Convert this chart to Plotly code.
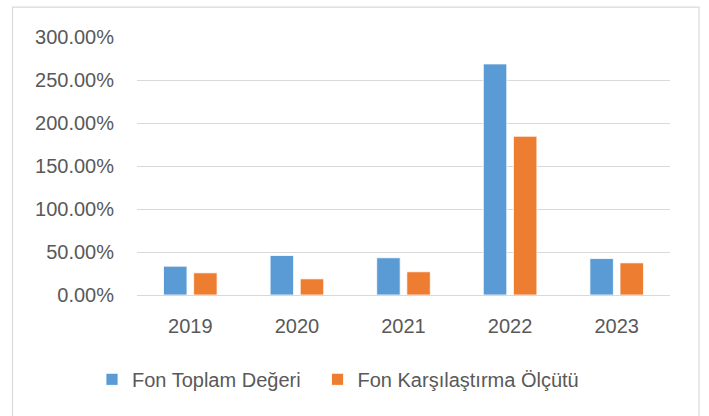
import plotly.graph_objects as go

years = ["2019", "2020", "2021", "2022", "2023"]
fon_toplam = [33.5, 45.9, 43.3, 268.7, 42.4]
fon_karsilastirma = [25.8, 18.8, 27.0, 184.6, 37.4]
series_names = ["Fon Toplam Değeri", "Fon Karşılaştırma Ölçütü"]
colors = ["#5B9BD5", "#ED7D31"]

W, H = 709, 416
L, R, T, B = 137, 670, 37, 295.5

fig = go.Figure()
for i, (name, vals, c) in enumerate(zip(series_names, [fon_toplam, fon_karsilastirma], colors)):
    fig.add_trace(go.Bar(x=years, y=vals, name=name, legend="legend" if i == 0 else "legend2",
                         marker=dict(color=c, line=dict(color="white", width=0.8))))

pw, ph = R - L, B - T
def px(x): return (x - L) / pw
def py(y): return (B - y) / ph

leg_common = dict(orientation="h", xanchor="left", y=py(380), yanchor="middle",
                  font=dict(size=20, color="#595959"), itemwidth=30,
                  bgcolor="rgba(0,0,0,0)")

fig.update_layout(
    width=W, height=H,
    margin=dict(l=L, r=W - R, t=T, b=H - B, pad=0),
    paper_bgcolor="white", plot_bgcolor="white",
    font=dict(family="Liberation Sans", size=20, color="#595959"),
    barmode="group", bargap=0.435, bargroupgap=0.22,
    showlegend=True,
    legend=dict(x=px(92), **leg_common),
    legend2=dict(x=px(317.5), **leg_common),
    shapes=[dict(type="rect", xref="paper", yref="paper",
                 x0=px(12.5), x1=px(699), y0=py(420), y1=py(7),
                 line=dict(color="#D9D9D9", width=1.2), fillcolor="rgba(0,0,0,0)", layer="below")],
)
fig.update_yaxes(range=[0, 300], dtick=50, tickformat=".2f", ticksuffix="%",
                 showgrid=True, gridcolor="#D9D9D9", gridwidth=1.3,
                 zeroline=True, zerolinecolor="#D9D9D9", zerolinewidth=1.3,
                 showline=False, ticks="", ticklabelstandoff=22, fixedrange=True)
fig.update_xaxes(showline=False, ticks="", ticklabelstandoff=17, fixedrange=True)

fig.write_html("out.html", config={"displayModeBar": False},
               post_script="document.body.style.margin='0';document.body.style.overflow='hidden';")
